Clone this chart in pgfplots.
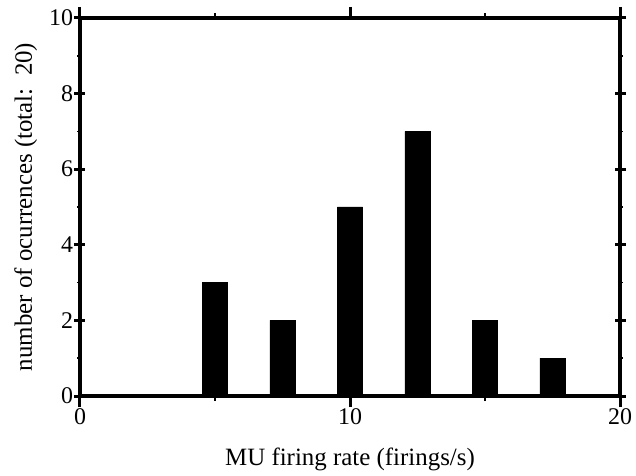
\documentclass[border=0pt]{standalone}
\usepackage{fontspec}
\setmainfont{Liberation Serif}
\usepackage{pgfplots}
\pgfplotsset{compat=1.18}
\begin{document}
\begin{tikzpicture}[x=1bp,y=1bp]
\begin{axis}[
  name=ax,
  at={(0bp,0bp)}, anchor=south west,
  scale only axis,
  width=540bp, height=378bp,
  xmin=0, xmax=20, ymin=0, ymax=10,
  xtick={0,10,20}, ytick={0,2,4,6,8,10},
  minor x tick num=1, minor y tick num=1,
  tick align=center,
  major tick length=11bp, minor tick length=5bp,
  major tick style={black, line width=3bp},
  minor tick style={black, line width=1.5bp},
  axis line style={line width=3.5bp},
  /pgf/number format/assume math mode=true,
  ticklabel style={font=\fontsize{24}{28}\selectfont},
  label style={font=\fontsize{25}{29}\selectfont},
  xticklabel style={yshift=2bp},
  yticklabel style={xshift=2bp},
  xlabel={MU firing rate (firings/s)},
  ylabel={number of ocurrences (total:\ \ 20)},
  xlabel style={yshift=-16bp},
  ylabel style={yshift=5bp},
  ybar, bar width=0.93,
]
\addplot[fill=black, draw=black, line width=0.4pt] coordinates {
  (5,3) (7.5,2) (10,5) (12.5,7) (15,2) (17.5,1)
};
\end{axis}
% heavy frame around the plot area
\draw[line width=4bp, line cap=rect] (ax.south west) rectangle (ax.north east);
\pgfresetboundingbox
\path (-80bp,-80bp) rectangle (556bp,396bp);
\end{tikzpicture}
\end{document}
